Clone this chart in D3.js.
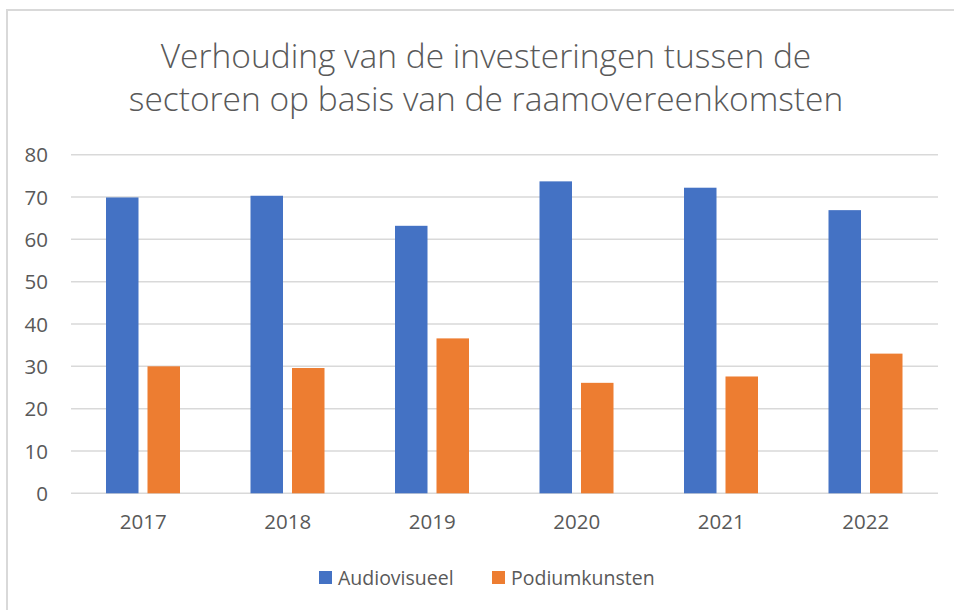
<!DOCTYPE html>
<html><head><meta charset="utf-8">
<script src="https://cdn.jsdelivr.net/npm/d3@7"></script>
<style>body{margin:0;background:#fff}svg{display:block}</style>
</head><body>
<script>
const years = ["2017","2018","2019","2020","2021","2022"];
const seriesNames = ["Audiovisueel","Podiumkunsten"];
const audiovisueel = [69.9, 70.3, 63.2, 73.7, 72.2, 66.9];
const podiumkunsten = [30.0, 29.6, 36.6, 26.1, 27.6, 33.0];
const yTicks = [0,10,20,30,40,50,60,70,80];
const titleLines = ["Verhouding van de investeringen tussen de","sectoren op basis van de raamovereenkomsten"];
const colors = ["#4472C4","#ED7D31"];

const W = 954, H = 610;
const svg = d3.select("body").append("svg").attr("width",W).attr("height",H);
svg.append("rect").attr("width",W).attr("height",H).attr("fill","#fff");
// chart border (left & top visible)
svg.append("path").attr("d",`M7,${H} V10 H${W}`).attr("fill","none").attr("stroke","#d9d9d9").attr("stroke-width",2);

const font = "'Open Sans', sans-serif";
const textColor = "#595959";

// title
const title = svg.append("g");
titleLines.forEach((t,i)=>{
  title.append("text").attr("x",486).attr("y",[68,111][i]).attr("text-anchor","middle")
    .attr("font-family",font).attr("font-weight",300).attr("font-size",33.5).attr("fill",textColor).text(t);
});

const x0 = d3.scaleBand().domain(years).range([71,938]);
const y = d3.scaleLinear().domain([0,80]).range([493.3,154.7]);
const x1 = d3.scaleBand().domain(seriesNames).range([35, 35+74]).paddingInner(9/74*2/ (1+9/74)).paddingOuter(0);

// gridlines
svg.append("g").selectAll("line").data(yTicks).join("line")
  .attr("x1",71).attr("x2",938).attr("y1",d=>y(d)).attr("y2",d=>y(d))
  .attr("stroke","#d9d9d9").attr("stroke-width",1.5);

// y axis labels
const yAxis = d3.axisLeft(y).tickValues(yTicks).tickSize(0).tickPadding(0);
const yg = svg.append("g").attr("transform","translate(48,0)").call(yAxis);
yg.select(".domain").remove();
yg.selectAll("text").attr("font-family",font).attr("font-size",20.5).attr("fill",textColor).attr("dy","0.35em");

// bars
const data = years.map((yr,i)=>({yr, vals:[audiovisueel[i], podiumkunsten[i]]}));
const groups = svg.append("g").selectAll("g").data(data).join("g")
  .attr("transform",d=>`translate(${x0(d.yr)},0)`);
groups.selectAll("rect").data(d=>d.vals.map((v,j)=>({v,s:seriesNames[j],j}))).join("rect")
  .attr("x",d=>x1(d.s)).attr("width",x1.bandwidth())
  .attr("y",d=>y(d.v)).attr("height",d=>y(0)-y(d.v))
  .attr("fill",d=>colors[d.j]);

// x axis labels
const xAxis = d3.axisBottom(x0).tickSize(0).tickPadding(0);
const xg = svg.append("g").attr("transform","translate(0,522)").call(xAxis);
xg.select(".domain").remove();
xg.selectAll("text").attr("font-family",font).attr("font-size",20.5).attr("fill",textColor).attr("dy","0.35em");

// legend
const legendX = [319, 492];
const lg = svg.append("g");
seriesNames.forEach((s,i)=>{
  lg.append("rect").attr("x",legendX[i]).attr("y",571).attr("width",13).attr("height",13).attr("fill",colors[i]);
  lg.append("text").attr("x",legendX[i]+19).attr("y",585).attr("font-family",font).attr("font-size",19.5)
    .attr("fill",textColor).text(s);
});
</script>
</body></html>
